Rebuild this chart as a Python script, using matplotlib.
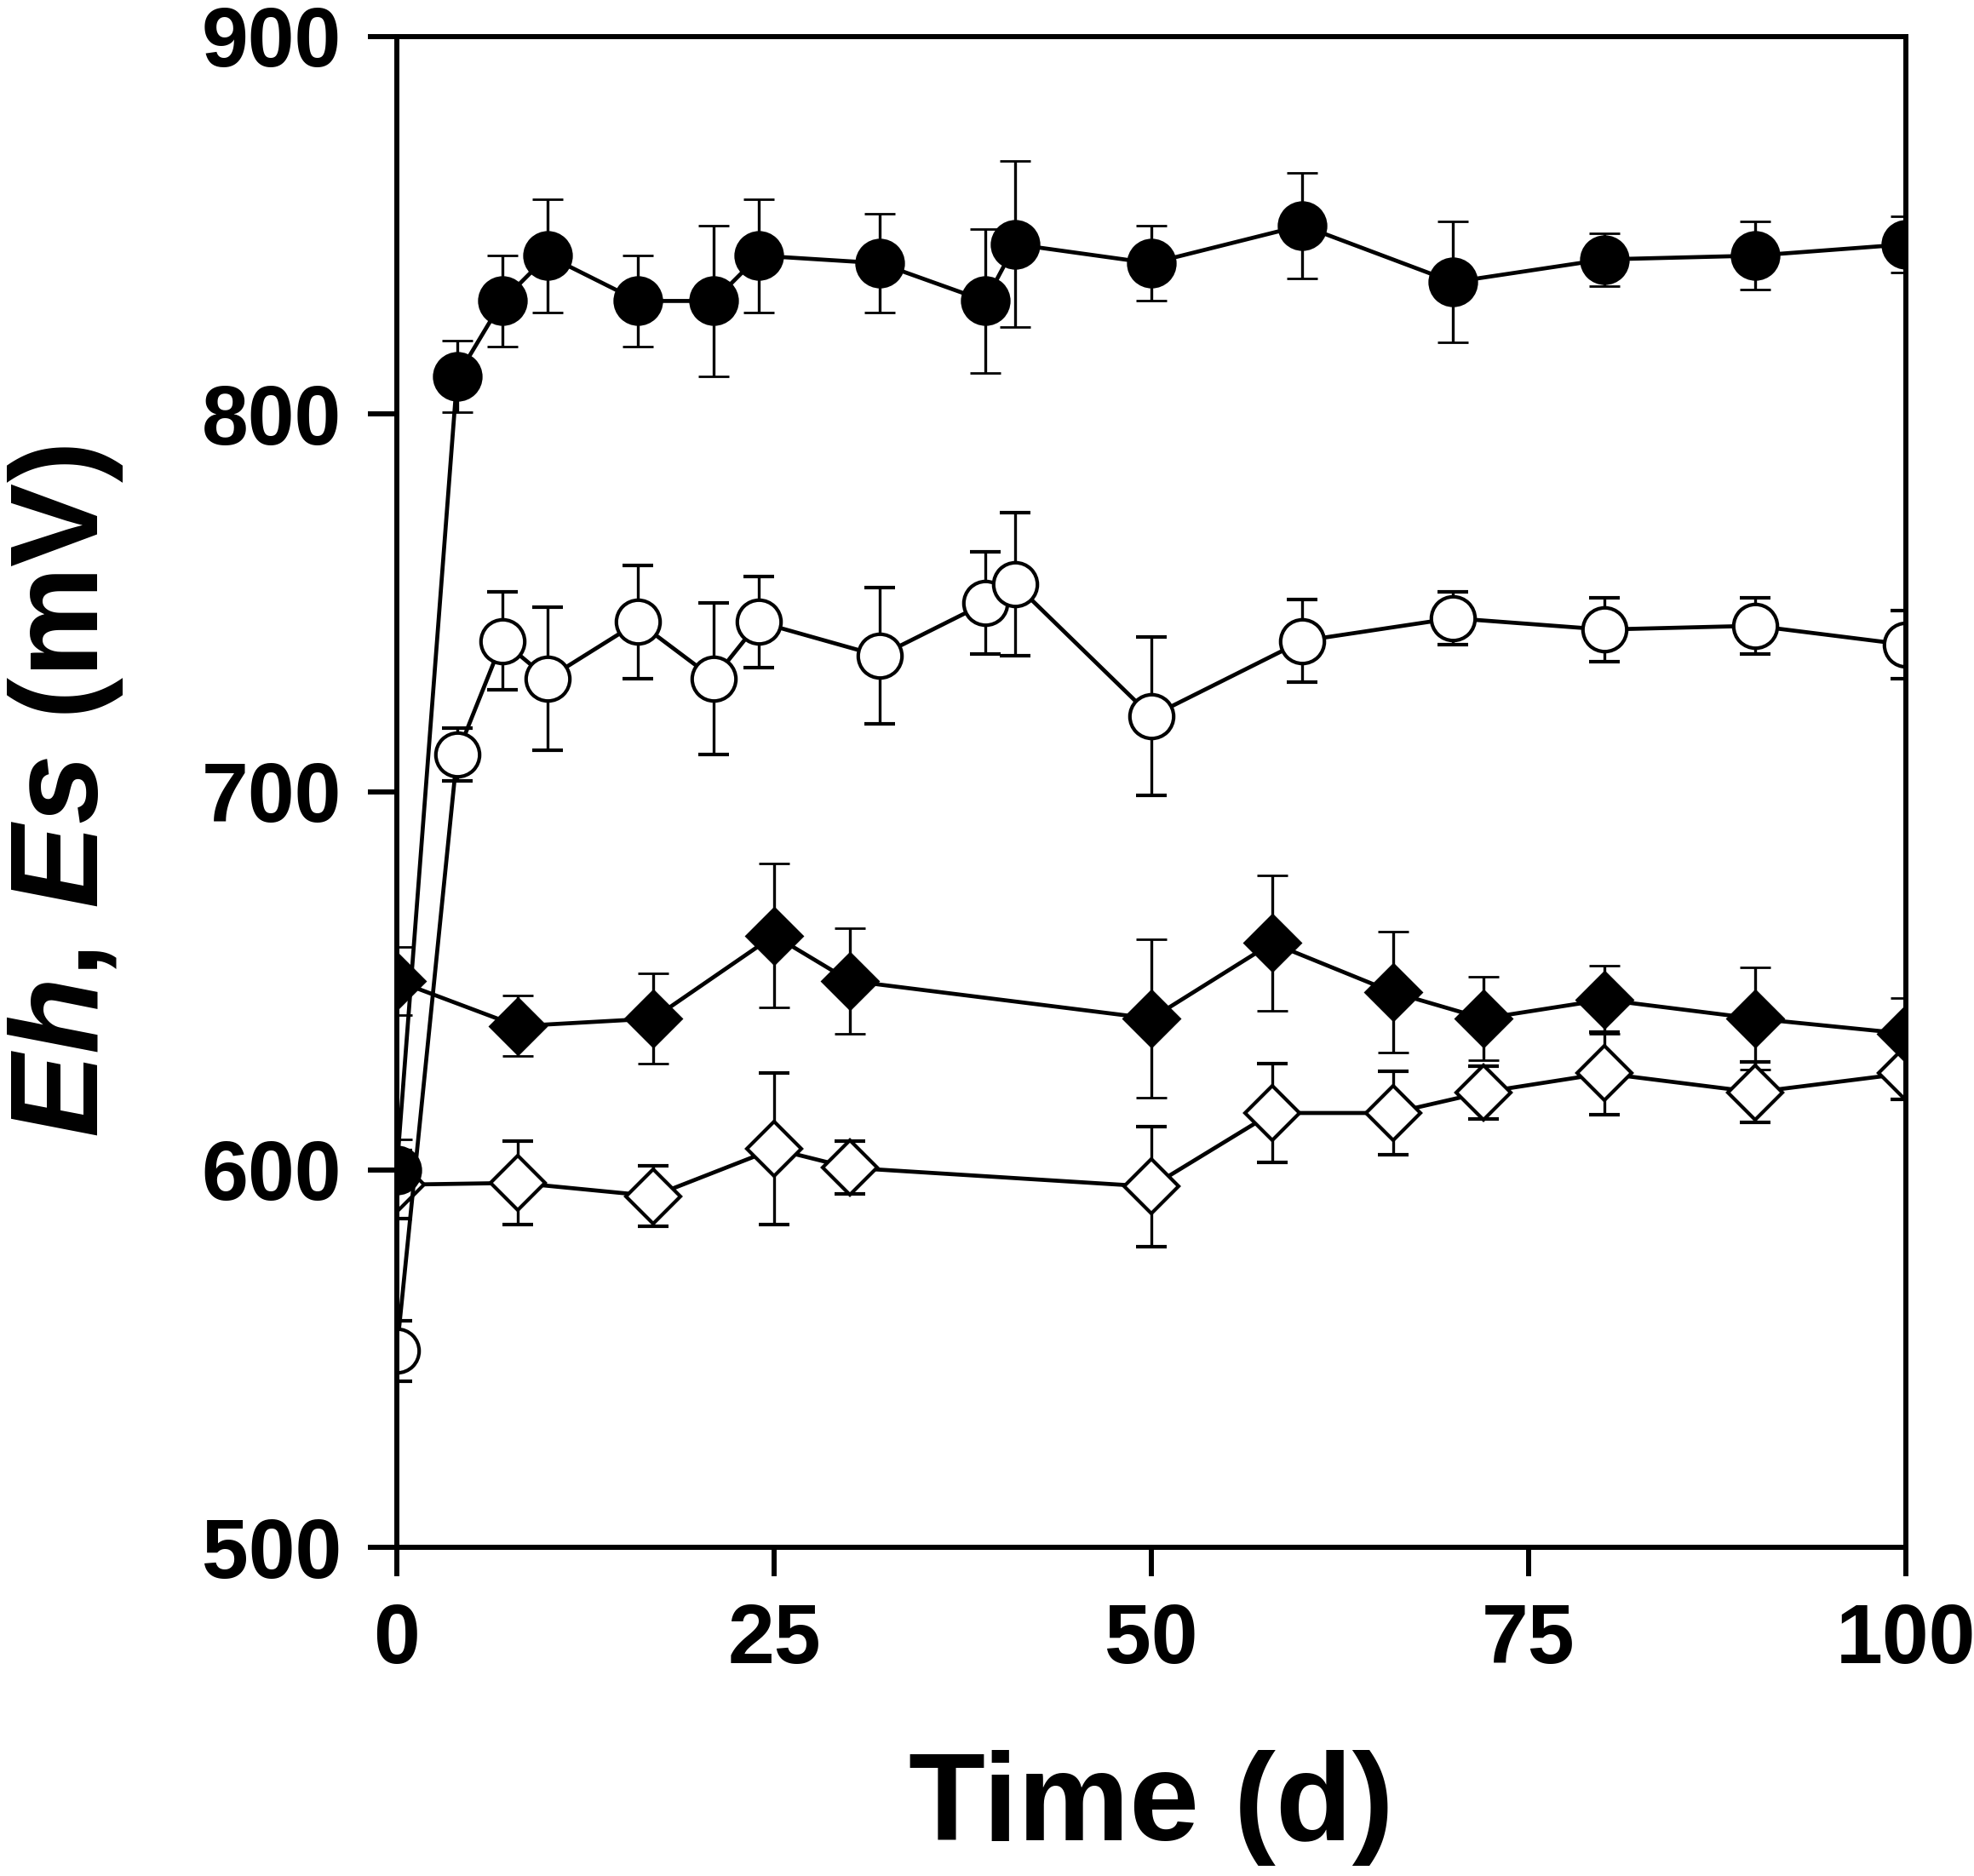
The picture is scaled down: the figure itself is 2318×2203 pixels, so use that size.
import matplotlib
matplotlib.use("Agg")
import matplotlib.pyplot as plt

plt.rcParams['font.family'] = ['Liberation Sans', 'DejaVu Sans']
plt.rcParams['mathtext.fontset'] = 'custom'
plt.rcParams['mathtext.bfit'] = 'Liberation Sans:italic:bold'
plt.rcParams['mathtext.it'] = 'Liberation Sans:italic:bold'
plt.rcParams['mathtext.rm'] = 'Liberation Sans:bold'

# Filled circles
t_fc = [0, 4, 7, 10, 16, 21, 24, 32, 39, 41, 50, 60, 70, 80, 90, 100]
v_fc = [600, 810, 830, 842, 830, 830, 842, 840, 830, 845, 840, 850, 835, 841, 842, 845]
e_fc = [8, 9.5, 12, 15, 12, 20, 15, 13, 19, 22, 10, 14, 16, 7, 9, 7.5]

# Open circles
t_oc = [0, 4, 7, 10, 16, 21, 24, 32, 39, 41, 50, 60, 70, 80, 90, 100]
v_oc = [552, 710, 740, 730, 745, 730, 745, 736, 750, 755, 720, 740, 746, 743, 744, 739]
e_oc = [8, 7, 13, 19, 15, 20, 12, 18, 13.5, 19, 21, 11, 7, 8.5, 7.5, 9]

# Filled diamonds
t_fd = [0, 8, 17, 25, 30, 50, 58, 66, 72, 80, 90, 100]
v_fd = [650, 638, 640, 662, 650, 640, 660, 647, 640, 645, 640, 636]
e_fd = [9, 8, 12, 19, 14, 21, 18, 16, 11, 9, 13.5, 9.5]

# Open diamonds
t_od = [0, 8, 17, 25, 30, 50, 58, 66, 72, 80, 90, 100]
v_od = [596, 596.5, 593, 605.5, 600.5, 595.5, 615, 615, 620.5, 625.5, 620.5, 625.5]
e_od = [9, 11, 8, 20, 7, 16, 13, 11, 7, 11, 8, 7]

xticks = [0, 25, 50, 75, 100]
yticks = [500, 600, 700, 800, 900]

fig = plt.figure(figsize=(23.18, 22.03), dpi=100)
ax = fig.add_axes([0.2010, 0.1752, 0.7645, 0.8053])

common = dict(color='black', lw=3.4, elinewidth=2.4, capsize=13, capthick=2.4)

ax.errorbar(t_od, v_od, yerr=e_od, marker='D', ms=33, mfc='white', mec='black', mew=3.0, **common)
ax.errorbar(t_fd, v_fd, yerr=e_fd, marker='D', ms=34, mfc='black', mec='black', mew=2.0, **common)
ax.errorbar(t_oc, v_oc, yerr=e_oc, marker='o', ms=37, mfc='white', mec='black', mew=3.0, **common)
ax.errorbar(t_fc, v_fc, yerr=e_fc, marker='o', ms=40, mfc='black', mec='black', mew=2.0, **common)

ax.set_xlim(0, 100)
ax.set_ylim(500, 900)
ax.set_xticks(xticks)
ax.set_yticks(yticks)
ax.set_xticklabels([str(x) for x in xticks])
ax.set_yticklabels([str(y) for y in yticks])

for s in ax.spines.values():
    s.set_linewidth(4.3)
ax.tick_params(axis='both', direction='out', length=24.5, width=4.3, pad=22,
               labelsize=71)
for lab in ax.get_xticklabels() + ax.get_yticklabels():
    lab.set_fontweight('bold')

ax.set_xlabel('Time (d)', fontsize=106, fontweight='bold')
ax.set_ylabel(r'$\mathbfit{Eh}$, $\mathbfit{Es}$ (mV)', fontsize=106, fontweight='bold')
ax.xaxis.set_label_coords(0.5, -0.134)
ax.yaxis.set_label_coords(-0.18, 0.5)

fig.savefig('out.png', dpi=100)
